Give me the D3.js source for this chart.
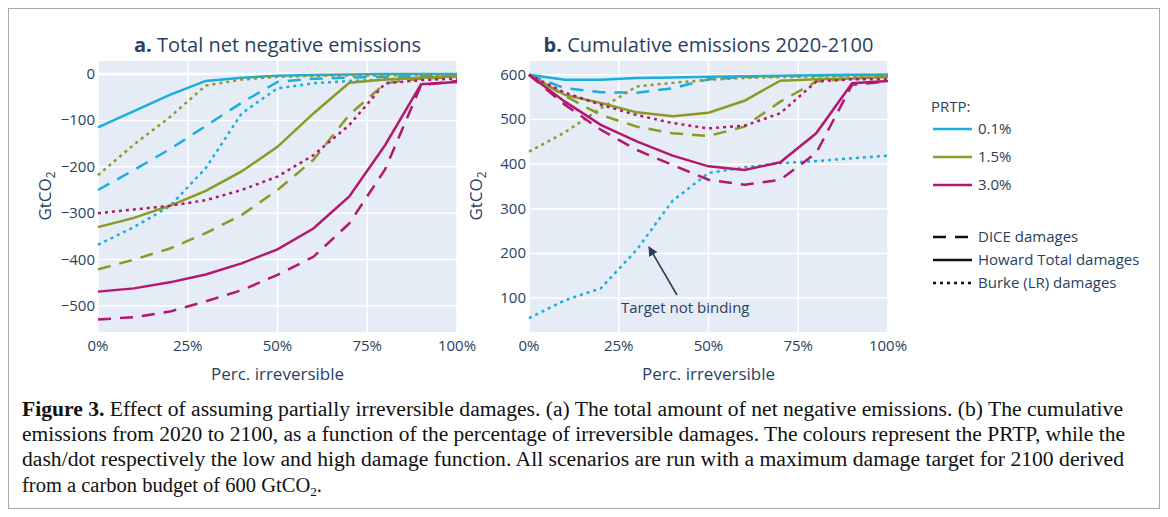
<!DOCTYPE html>
<html>
<head>
  <title>Figure 3</title>
  <script src="https://d3js.org/d3.v7.min.js"></script>
  <style>
    body { margin: 0; background: #fff; }
    .tick-label { font: 15px "Open Sans", sans-serif; fill: #2a3f5f; }
    .axis-title { font: 17px "Open Sans", sans-serif; fill: #2a3f5f; }
    .panel-title { font: 20px "Open Sans", sans-serif; fill: #2a3f5f; }
    .legend-text { font: 15px "Open Sans", sans-serif; fill: #2a3f5f; }
    .caption { font: 20px "Liberation Serif", serif; fill: #111; }
  </style>
</head>
<body>
  <svg id="fig" width="1168" height="517"></svg>

  <script>
    // x values: percentage of irreversible damages
    const pctIrreversible = [0, 10, 20, 30, 40, 50, 60, 70, 80, 90, 100];
    const xTicks = [0, 25, 50, 75, 100];
    const yTicksA = [0, -100, -200, -300, -400, -500];
    const yTicksB = [100, 200, 300, 400, 500, 600];
    const prtpLabels = ["0.1%", "1.5%", "3.0%"];
    const damageLabels = ["DICE damages", "Howard Total damages", "Burke (LR) damages"];

    // (a) total net negative emissions, GtCO2
    const netNeg01Dice   = [-250, -207, -162, -112, -62, -17, -10, -8, -6, -5, -3];
    const netNeg01Howard = [-115, -80, -45, -15, -8, -4, -2, -1, 0, 0, 0];
    const netNeg01Burke  = [-368, -330, -285, -203, -85, -31, -20, -15, -12, -8, -5];
    const netNeg15Dice   = [-421, -400, -376, -343, -304, -250, -185, -88, -20, -10, -6];
    const netNeg15Howard = [-330, -310, -284, -252, -210, -157, -85, -19, -12, -8, -5];
    const netNeg15Burke  = [-218, -152, -93, -25, -12, -6, -4, -3, -3, -2, -2];
    const netNeg30Dice   = [-529, -524, -512, -490, -466, -433, -394, -322, -205, -24, -15];
    const netNeg30Howard = [-469, -462, -449, -432, -408, -378, -333, -264, -153, -22, -17];
    const netNeg30Burke  = [-300, -292, -284, -272, -250, -221, -175, -110, -20, -13, -10];

    // (b) cumulative emissions 2020-2100, GtCO2
    const cumEm01Dice   = [600, 570, 561, 560, 570, 590, 595, 597, 598, 599, 600];
    const cumEm01Howard = [600, 589, 589, 593, 594, 596, 597, 598, 599, 600, 600];
    const cumEm01Burke  = [55, 95, 122, 208, 318, 380, 393, 402, 407, 413, 419];
    const cumEm15Dice   = [600, 553, 510, 484, 469, 463, 484, 540, 585, 592, 596];
    const cumEm15Howard = [600, 555, 537, 516, 507, 515, 542, 587, 590, 592, 595];
    const cumEm15Burke  = [428, 471, 525, 574, 582, 589, 593, 595, 596, 597, 598];
    const cumEm30Dice   = [600, 533, 477, 432, 398, 365, 354, 365, 425, 578, 585];
    const cumEm30Howard = [600, 540, 488, 451, 419, 395, 387, 404, 469, 581, 586];
    const cumEm30Burke  = [600, 560, 533, 510, 492, 480, 486, 514, 585, 590, 590];

    const colors = { "0.1%": "#19ade0", "1.5%": "#8a9a25", "3.0%": "#b3176f" };
    const dashes = { "DICE damages": "13,9", "Howard Total damages": null, "Burke (LR) damages": "3,4" };

    const panelA = [
      ["0.1%", "DICE damages", netNeg01Dice], ["0.1%", "Howard Total damages", netNeg01Howard], ["0.1%", "Burke (LR) damages", netNeg01Burke],
      ["1.5%", "DICE damages", netNeg15Dice], ["1.5%", "Howard Total damages", netNeg15Howard], ["1.5%", "Burke (LR) damages", netNeg15Burke],
      ["3.0%", "DICE damages", netNeg30Dice], ["3.0%", "Howard Total damages", netNeg30Howard], ["3.0%", "Burke (LR) damages", netNeg30Burke]
    ];
    const panelB = [
      ["0.1%", "DICE damages", cumEm01Dice], ["0.1%", "Howard Total damages", cumEm01Howard], ["0.1%", "Burke (LR) damages", cumEm01Burke],
      ["1.5%", "DICE damages", cumEm15Dice], ["1.5%", "Howard Total damages", cumEm15Howard], ["1.5%", "Burke (LR) damages", cumEm15Burke],
      ["3.0%", "DICE damages", cumEm30Dice], ["3.0%", "Howard Total damages", cumEm30Howard], ["3.0%", "Burke (LR) damages", cumEm30Burke]
    ];

    const svg = d3.select("#fig");

    // outer frame
    svg.append("rect").attr("x", 8.5).attr("y", 8.5).attr("width", 1151).attr("height", 500)
      .attr("fill", "none").attr("stroke", "#aaa").attr("stroke-width", 1);

    function drawPanel(opts) {
      const x = d3.scaleLinear().domain([0, 100]).range([opts.left, opts.right]);
      const y = d3.scaleLinear().domain(opts.yDomain).range([332, 61]);
      const g = svg.append("g");

      g.append("rect").attr("x", opts.left).attr("y", 61)
        .attr("width", opts.right - opts.left).attr("height", 271).attr("fill", "#e5ecf6");

      // grid
      g.selectAll(".gx").data(xTicks).enter().append("line")
        .attr("x1", d => x(d)).attr("x2", d => x(d)).attr("y1", 61).attr("y2", 332)
        .attr("stroke", "#fff").attr("stroke-width", 1.5);
      g.selectAll(".gy").data(opts.yTicks).enter().append("line")
        .attr("x1", opts.left).attr("x2", opts.right).attr("y1", d => y(d)).attr("y2", d => y(d))
        .attr("stroke", "#fff").attr("stroke-width", d => d === 0 ? 2.5 : 1.5);

      // tick labels
      g.selectAll(".tx").data(xTicks).enter().append("text")
        .attr("class", "tick-label").attr("x", d => x(d)).attr("y", 351)
        .attr("text-anchor", "middle").text(d => d + "%");
      g.selectAll(".ty").data(opts.yTicks).enter().append("text")
        .attr("class", "tick-label").attr("x", opts.left - 3).attr("y", d => y(d) + 5)
        .attr("text-anchor", "end").text(d => d < 0 ? "\u2212" + Math.abs(d) : d);

      // lines
      const line = d3.line().x((d, i) => x(pctIrreversible[i])).y(d => y(d));
      opts.series.forEach(s => {
        g.append("path").datum(s[2]).attr("d", line)
          .attr("fill", "none").attr("stroke", colors[s[0]]).attr("stroke-width", 2.5)
          .attr("stroke-dasharray", dashes[s[1]]);
      });

      // titles
      const cx = (opts.left + opts.right) / 2;
      const t = g.append("text").attr("class", "panel-title").attr("x", cx).attr("y", 52).attr("text-anchor", "middle");
      t.append("tspan").attr("font-weight", "bold").text(opts.letter);
      t.append("tspan").text(" " + opts.title);

      g.append("text").attr("class", "axis-title").attr("x", cx).attr("y", 380)
        .attr("text-anchor", "middle").text("Perc. irreversible");

      const yt = g.append("text").attr("class", "axis-title")
        .attr("transform", `translate(${opts.left - 47},196) rotate(-90)`).attr("text-anchor", "middle");
      yt.append("tspan").text("GtCO");
      yt.append("tspan").attr("font-size", 12).attr("dy", 4).text("2");
      return { x, y, g };
    }

    drawPanel({ left: 98, right: 457, yDomain: [-556, 28], yTicks: yTicksA, series: panelA,
                letter: "a.", title: "Total net negative emissions" });
    drawPanel({ left: 529, right: 888, yDomain: [24, 631], yTicks: yTicksB, series: panelB,
                letter: "b.", title: "Cumulative emissions 2020-2100" });

    // annotation
    svg.append("defs").append("marker").attr("id", "arrow").attr("viewBox", "0 0 10 10")
      .attr("refX", 9).attr("refY", 5).attr("markerWidth", 6).attr("markerHeight", 6)
      .attr("orient", "auto").append("path").attr("d", "M0,0L10,5L0,10z").attr("fill", "#2a3f5f");
    svg.append("line").attr("x1", 677).attr("y1", 295).attr("x2", 649).attr("y2", 247)
      .attr("stroke", "#2a3f5f").attr("stroke-width", 1.6).attr("marker-end", "url(#arrow)");
    svg.append("text").attr("class", "legend-text").attr("x", 621).attr("y", 313).text("Target not binding");

    // legend
    const lg = svg.append("g");
    lg.append("text").attr("class", "legend-text").attr("x", 931).attr("y", 112).text("PRTP:");
    const colRows = [129, 157, 185];
    prtpLabels.forEach((p, i) => {
      lg.append("line").attr("x1", 933).attr("x2", 972).attr("y1", colRows[i]).attr("y2", colRows[i])
        .attr("stroke", colors[p]).attr("stroke-width", 2.5);
      lg.append("text").attr("class", "legend-text").attr("x", 978).attr("y", colRows[i] + 5).text(p);
    });
    const dmgRows = [237, 260, 283];
    damageLabels.forEach((d, i) => {
      lg.append("line").attr("x1", 933).attr("x2", 972).attr("y1", dmgRows[i]).attr("y2", dmgRows[i])
        .attr("stroke", "#111").attr("stroke-width", 2.5).attr("stroke-dasharray", dashes[d]);
      lg.append("text").attr("class", "legend-text").attr("x", 978).attr("y", dmgRows[i] + 5).text(d);
    });

    // caption
    const capLines = [
      [" Effect of assuming partially irreversible damages. (a) The total amount of net negative emissions. (b) The cumulative", 1101],
      ["emissions from 2020 to 2100, as a function of the percentage of irreversible damages. The colours represent the PRTP, while the", 1103],
      ["dash/dot respectively the low and high damage function. All scenarios are run with a maximum damage target for 2100 derived", 1102]
    ];
    const capY = [416, 441, 466, 492];
    capLines.forEach((c, i) => {
      const t = svg.append("text").attr("class", "caption").attr("x", 22).attr("y", capY[i])
        .attr("textLength", c[1]).attr("lengthAdjust", "spacingAndGlyphs");
      if (i === 0) t.append("tspan").attr("font-weight", "bold").text("Figure 3.");
      t.append("tspan").text(c[0]);
    });
    const last = svg.append("text").attr("class", "caption").attr("x", 22).attr("y", capY[3])
      .attr("textLength", 300).attr("lengthAdjust", "spacingAndGlyphs");
    last.append("tspan").text("from a carbon budget of 600 GtCO");
    last.append("tspan").attr("font-size", 13).attr("dy", 4).text("2");
    last.append("tspan").attr("dy", -4).text(".");
  </script>
</body>
</html>
